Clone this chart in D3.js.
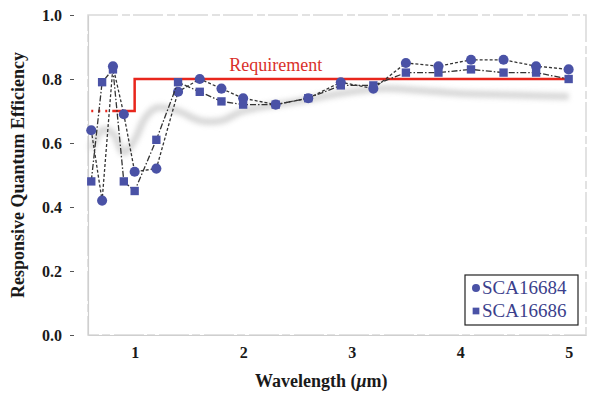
<!DOCTYPE html>
<html>
<head>
<meta charset="utf-8">
<script src="https://cdn.jsdelivr.net/npm/d3@7"></script>
<style>
  body { margin: 0; background: #fff; }
  svg text { font-family: "Liberation Serif", "DejaVu Serif", serif; }
</style>
</head>
<body>
<div id="chart"></div>
<script>
// wavelength samples (um)
const wavelengths = [0.6, 0.7, 0.8, 0.9, 1.0, 1.2, 1.4, 1.6, 1.8, 2.0, 2.3, 2.6, 2.9, 3.2, 3.5, 3.8, 4.1, 4.4, 4.7, 5.0];
const sca16684 = [0.64, 0.42, 0.84, 0.69, 0.51, 0.52, 0.76, 0.80, 0.77, 0.74, 0.72, 0.74, 0.79, 0.77, 0.85, 0.84, 0.86, 0.86, 0.84, 0.83];
const sca16686 = [0.48, 0.79, 0.83, 0.48, 0.45, 0.61, 0.79, 0.76, 0.73, 0.72, 0.72, 0.74, 0.78, 0.78, 0.82, 0.82, 0.83, 0.82, 0.82, 0.80];

// requirement step
const reqWl = [0.6, 0.8, 1.0, 1.0, 5.0];
const reqVal = [0.70, 0.70, 0.70, 0.80, 0.80];

// faint grey model curve behind the data
const modelWl = [0.6, 0.7, 0.8, 0.9, 1.0, 1.1, 1.2, 1.4, 1.6, 1.8, 2.0, 2.5, 3.0, 3.3, 3.6, 4.0, 4.5, 5.0];
const modelVal = [0.58, 0.64, 0.63, 0.57, 0.61, 0.68, 0.71, 0.70, 0.67, 0.67, 0.70, 0.73, 0.76, 0.77, 0.765, 0.755, 0.75, 0.745];

const xTicks = [1, 2, 3, 4, 5];
const yTicks = [0.0, 0.2, 0.4, 0.6, 0.8, 1.0];

const width = 590, height = 394;
const margin = {top: 15, right: 4, bottom: 59, left: 88};
const w = width - margin.left - margin.right;
const h = height - margin.top - margin.bottom;

const svg = d3.select('#chart').append('svg')
  .attr('width', width)
  .attr('height', height);

const defs = svg.append('defs');
defs.append('filter').attr('id', 'blur')
  .attr('x', '-10%').attr('y', '-50%').attr('width', '120%').attr('height', '200%')
  .append('feGaussianBlur').attr('stdDeviation', 2.5);

const g = svg.append('g').attr('transform', `translate(${margin.left},${margin.top})`);

const x = d3.scaleLinear().domain([0.57, 5.16]).range([0, w]);
const y = d3.scaleLinear().domain([0, 1]).range([h, 0]);

// faint frame
g.append('rect')
  .attr('width', w).attr('height', h)
  .attr('fill', 'none')
  .attr('stroke', '#d9d9d9')
  .attr('stroke-width', 1.5)
  .attr('stroke-dasharray', '30,4,8,3');

// axes
const yAxis = g.append('g')
  .call(d3.axisLeft(y).tickValues(yTicks).tickFormat(d3.format('.1f')).tickSizeInner(4).tickSizeOuter(0).tickPadding(22));
const xAxis = g.append('g')
  .attr('transform', `translate(0,${h})`)
  .call(d3.axisBottom(x).tickValues(xTicks).tickFormat(d3.format('d')).tickSizeInner(0).tickSizeOuter(0).tickPadding(12));

[yAxis, xAxis].forEach(a => {
  a.select('.domain').attr('stroke', '#cfcfcf').attr('stroke-width', 1.2);
  a.selectAll('.tick line').attr('stroke', '#555');
  a.selectAll('.tick text')
    .attr('fill', '#1a1a1a')
    .style('font-size', '16px')
    .style('font-weight', 'bold')
    .style('font-family', '"Liberation Serif", serif');
});
yAxis.selectAll('.tick line').attr('transform', 'translate(-14,0)');

// grey model curve
const modelData = modelWl.map((d, i) => ({x: d, y: modelVal[i]}));
g.append('path')
  .datum(modelData)
  .attr('fill', 'none')
  .attr('stroke', '#c8c8c8')
  .attr('stroke-width', 7)
  .attr('opacity', 0.7)
  .attr('filter', 'url(#blur)')
  .attr('d', d3.line().x(d => x(d.x)).y(d => y(d.y)).curve(d3.curveCatmullRom));

// requirement line
const req = reqWl.map((d, i) => ({x: d, y: reqVal[i]}));
const reqLine = d3.line().x(d => x(d.x)).y(d => y(d.y));
g.append('path')
  .datum(req.slice(0, 2))
  .attr('fill', 'none')
  .attr('stroke', '#e8261c')
  .attr('stroke-width', 2.5)
  .attr('stroke-dasharray', '2,5')
  .attr('d', reqLine);
g.append('path')
  .datum(req.slice(1))
  .attr('fill', 'none')
  .attr('stroke', '#e8261c')
  .attr('stroke-width', 2.5)
  .attr('d', reqLine);
g.append('text')
  .attr('x', x(2.3))
  .attr('y', y(0.81) - 5)
  .attr('text-anchor', 'middle')
  .attr('fill', '#d9302a')
  .style('font-size', '18px')
  .text('Requirement');

// data series
const series = [
  {name: 'SCA16684', values: sca16684, shape: d3.symbolCircle, size: 80, dash: '3,2'},
  {name: 'SCA16686', values: sca16686, shape: d3.symbolSquare, size: 70, dash: '6,2,1.5,2'}
];
const markColor = '#4a52a6';

series.forEach(s => {
  const pts = wavelengths.map((d, i) => ({x: d, y: s.values[i]}));
  g.append('path')
    .datum(pts)
    .attr('fill', 'none')
    .attr('stroke', '#333')
    .attr('stroke-width', 1.3)
    .attr('stroke-dasharray', s.dash)
    .attr('d', d3.line().x(d => x(d.x)).y(d => y(d.y)));
  g.selectAll(null)
    .data(pts)
    .enter()
    .append('path')
    .attr('transform', d => `translate(${x(d.x)},${y(d.y)})`)
    .attr('d', d3.symbol().type(s.shape).size(s.size))
    .attr('fill', markColor);
});

// axis titles
svg.append('text')
  .attr('transform', `translate(24,${margin.top + h / 2}) rotate(-90)`)
  .attr('text-anchor', 'middle')
  .attr('fill', '#1a1a1a')
  .style('font-size', '18px')
  .style('font-weight', 'bold')
  .text('Responsive Quantum Efficiency');

const xt = svg.append('text')
  .attr('x', margin.left + x(2.72))
  .attr('y', 387)
  .attr('text-anchor', 'middle')
  .attr('fill', '#1a1a1a')
  .style('font-size', '18px')
  .style('font-weight', 'bold');
xt.append('tspan').text('Wavelength (');
xt.append('tspan').style('font-style', 'italic').text('μ');
xt.append('tspan').text('m)');

// legend
const lg = svg.append('g').attr('transform', 'translate(465,275)');
lg.append('rect')
  .attr('width', 113).attr('height', 50)
  .attr('fill', '#fff')
  .attr('stroke', '#222')
  .attr('stroke-width', 1.2);
series.forEach((s, i) => {
  const row = lg.append('g').attr('transform', `translate(0,${13 + i * 23})`);
  row.append('path')
    .attr('transform', 'translate(11,0)')
    .attr('d', d3.symbol().type(s.shape).size(i === 0 ? 50 : 45))
    .attr('fill', markColor);
  row.append('text')
    .attr('x', 17)
    .attr('y', 6)
    .attr('fill', '#3b3f8c')
    .style('font-size', '19px')
    .text(s.name);
});
</script>
</body>
</html>
